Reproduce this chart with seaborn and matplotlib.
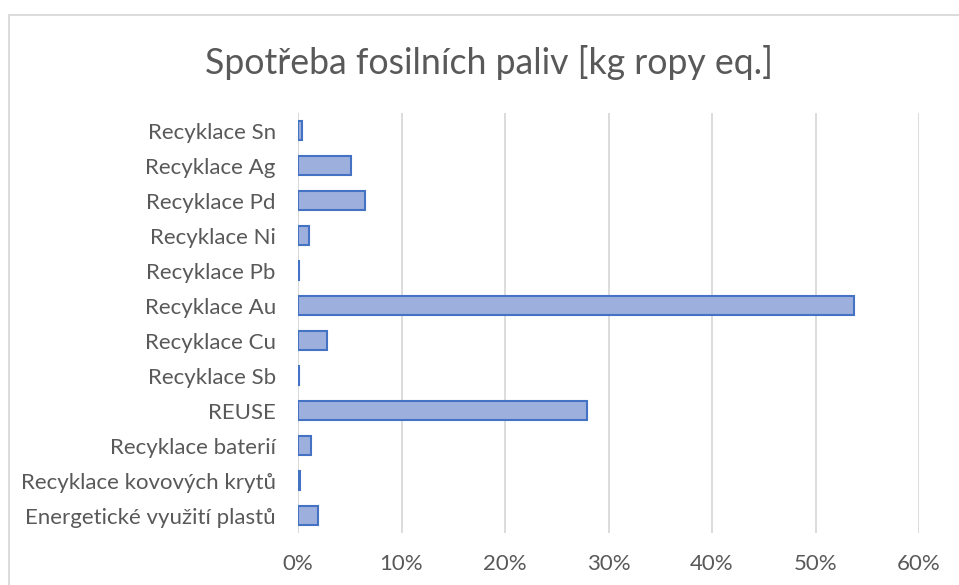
import pandas as pd
import matplotlib.pyplot as plt
import matplotlib as mpl
import seaborn as sns

# categories top to bottom, values as share of total
kategorie = ['Recyklace Sn', 'Recyklace Ag', 'Recyklace Pd', 'Recyklace Ni',
             'Recyklace Pb', 'Recyklace Au', 'Recyklace Cu', 'Recyklace Sb',
             'REUSE', 'Recyklace baterií', 'Recyklace kovových krytů',
             'Energetické využití plastů']
podil = [0.004, 0.051, 0.065, 0.011, 0.001, 0.537, 0.028, 0.001,
         0.279, 0.013, 0.0015, 0.019]
xticks = [0, 0.1, 0.2, 0.3, 0.4, 0.5, 0.6]

df = pd.DataFrame({'Kategorie': kategorie, 'Podil': podil})

sns.set_style('white')
plt.rcParams['font.family'] = ['Lato', 'DejaVu Sans']

fig = plt.figure(figsize=(9.59, 5.85), dpi=100)
ax = fig.add_axes([298/959, 1-533/585, (919-298)/959, (533-113)/585])

sns.barplot(data=df, y='Kategorie', x='Podil', orient='h', ax=ax,
            color='#9dafdc', edgecolor='#4472c4', linewidth=1.5, width=0.52,
            saturation=1)

ax.set_xlim(0, 0.6)
ax.set_xticks(xticks)
ax.xaxis.set_major_formatter(mpl.ticker.PercentFormatter(1.0, decimals=0))
ax.grid(axis='x', color='#d9d9d9', linewidth=1.3)
ax.set_axisbelow(True)
for s in ax.spines.values():
    s.set_visible(False)
ax.axvline(0, color='#d9d9d9', linewidth=1.3, zorder=0)
ax.set_xlabel('')
ax.set_ylabel('')
ax.tick_params(axis='both', length=0, labelsize=16, labelcolor='#595959')
ax.tick_params(axis='y', pad=16)
ax.tick_params(axis='x', pad=15)

fig.text(489/959, 1-62/585, 'Spotřeba fosilních paliv [kg ropy eq.]',
         ha='center', va='center', fontsize=25.7, color='#595959')

# chart border
fig.patches.append(mpl.patches.Rectangle((9/959, -0.02), 1.0, 1.02-15/585,
                   transform=fig.transFigure, fill=False,
                   edgecolor='#d9d9d9', linewidth=1.3))

fig.savefig('out.png', dpi=100)
